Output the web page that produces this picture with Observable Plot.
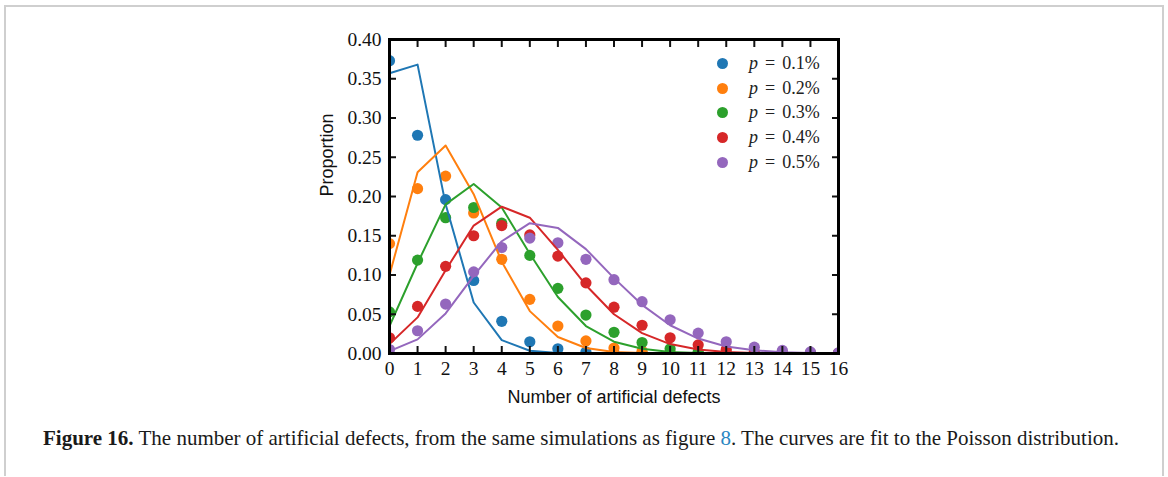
<!DOCTYPE html>
<html>
<head>
<meta charset="utf-8">
<script src="https://cdn.jsdelivr.net/npm/d3@7"></script>
<script src="https://cdn.jsdelivr.net/npm/@observablehq/plot@0.6"></script>
<style>
  html, body { margin: 0; padding: 0; background: #fff; }
  #page { position: relative; width: 1168px; height: 477px; overflow: hidden; }
  #sheet { position: absolute; left: 4px; top: 5px; width: 1156px; height: 469px;
           border-left: 2px solid #cfcfcf; border-top: 2px solid #cfcfcf; border-right: 2px solid #cfcfcf; }
  #chart { position: absolute; left: 0; top: 0; }
  #legend { position: absolute; left: 714px; top: 51px; font-family: "Liberation Serif", serif; font-size: 18px; color: #222; }
  #legend .row { height: 24.8px; display: flex; align-items: center; }
  #legend .sw { width: 11px; height: 11px; border-radius: 50%; margin-left: 3px; margin-right: 21px; }
  #legend i { margin-right: 7px; }
  #legend .eq { margin-right: 7px; }
  #caption { position: absolute; left: 43px; top: 426px; font-family: "Liberation Serif", serif; font-size: 21px; color: #1a1a1a; white-space: nowrap; }
  #caption b { font-weight: bold; }
  #caption .ref { color: #2a86c2; }
</style>
</head>
<body>
<div id="page">
  <div id="sheet"></div>
  <div id="chart"></div>
  <div id="legend"></div>
  <div id="caption"><b>Figure 16.</b> The number of artificial defects, from the same simulations as figure <span class="ref">8</span>. The curves are fit to the Poisson distribution.</div>
</div>
<script>
// Number of artificial defects per sample
const defects = [0, 1, 2, 3, 4, 5, 6, 7, 8, 9, 10, 11, 12, 13, 14, 15, 16];

// Defect probability of each simulation set
const seriesLabels = ["0.1", "0.2", "0.3", "0.4", "0.5"];
const seriesColors = ["#1f77b4", "#ff7f0e", "#2ca02c", "#d62728", "#9467bd"];

// Observed proportions (markers)
const observed01 = [0.373, 0.278, 0.196, 0.093, 0.041, 0.015, 0.006, 0.002, 0.001, 0, 0, 0, 0, 0, 0, 0, 0];
const observed02 = [0.140, 0.210, 0.226, 0.179, 0.120, 0.069, 0.035, 0.016, 0.007, 0.003, 0.001, 0, 0, 0, 0, 0, 0];
const observed03 = [0.053, 0.119, 0.173, 0.186, 0.166, 0.125, 0.083, 0.049, 0.027, 0.014, 0.006, 0.002, 0.001, 0, 0, 0, 0];
const observed04 = [0.020, 0.060, 0.111, 0.150, 0.163, 0.151, 0.124, 0.090, 0.059, 0.036, 0.020, 0.011, 0.005, 0.002, 0.001, 0, 0];
const observed05 = [0.005, 0.029, 0.063, 0.104, 0.135, 0.147, 0.141, 0.120, 0.094, 0.066, 0.043, 0.026, 0.015, 0.008, 0.004, 0.002, 0.001];

// Poisson fits (curves)
const fit01 = [0.357, 0.368, 0.190, 0.065, 0.017, 0.0035, 0.0006, 0.0001, 0, 0, 0, 0, 0, 0, 0, 0, 0];
const fit02 = [0.100, 0.231, 0.265, 0.203, 0.117, 0.054, 0.021, 0.007, 0.002, 0.0005, 0.0001, 0, 0, 0, 0, 0, 0];
const fit03 = [0.035, 0.115, 0.190, 0.216, 0.186, 0.127, 0.072, 0.035, 0.015, 0.006, 0.002, 0.0006, 0.0002, 0, 0, 0, 0];
const fit04 = [0.012, 0.046, 0.106, 0.163, 0.187, 0.173, 0.132, 0.087, 0.050, 0.026, 0.012, 0.005, 0.002, 0.0007, 0.0002, 0.0001, 0];
const fit05 = [0.003, 0.018, 0.051, 0.099, 0.143, 0.166, 0.160, 0.133, 0.096, 0.062, 0.036, 0.019, 0.009, 0.004, 0.0017, 0.0006, 0.0002];

const yTicks = [0, 0.05, 0.10, 0.15, 0.20, 0.25, 0.30, 0.35, 0.40];

const observedSets = [observed01, observed02, observed03, observed04, observed05];
const fitSets = [fit01, fit02, fit03, fit04, fit05];

// Long tables: one row per (series, defect count)
const points = observedSets.flatMap((vals, s) => vals.map((v, i) => ({s, x: defects[i], y: v})));
const curves = fitSets.flatMap((vals, s) => vals.map((v, i) => ({s, x: defects[i], y: v})));

const serif = "Liberation Serif, serif";
const sans = "Liberation Sans, Arial, sans-serif";

const dotMarks = seriesLabels.map((_, s) =>
  Plot.dot(points.filter(d => d.s === s), {x: "x", y: "y", r: 5.6, fill: seriesColors[s], stroke: "none", clip: true})
);
const lineMarks = seriesLabels.map((_, s) =>
  Plot.line(curves.filter(d => d.s === s), {x: "x", y: "y", stroke: seriesColors[s], strokeWidth: 2, clip: true})
);

const chart = Plot.plot({
  width: 1168,
  height: 420,
  marginLeft: 389,
  marginRight: 330,
  marginTop: 39,
  marginBottom: 67,
  style: {fontFamily: serif, fontSize: "19px", color: "#111", background: "transparent"},
  x: {domain: [0, 16]},
  y: {domain: [0, 0.40]},
  marks: [
    ...dotMarks,
    ...lineMarks,
    // inward ticks on all four sides
    Plot.axisX(defects, {anchor: "bottom", tickSize: -7, tickPadding: 15, strokeWidth: 2, label: null, fontFamily: serif, fontSize: 19.5}),
    Plot.axisX(defects, {anchor: "top", tickSize: -7, tickFormat: () => "", strokeWidth: 2, label: null}),
    Plot.axisY(yTicks, {anchor: "left", tickSize: -7, tickPadding: 15, tickFormat: d3.format(".2f"), strokeWidth: 2, label: null, fontFamily: serif, fontSize: 19.5}),
    Plot.axisY(yTicks, {anchor: "right", tickSize: -7, tickFormat: () => "", strokeWidth: 2, label: null}),
    Plot.frame({stroke: "#000", strokeWidth: 3}),
    Plot.text(["Number of artificial defects"], {frameAnchor: "bottom", dy: 49, fontFamily: sans, fontSize: 18, fill: "#111"}),
    Plot.text(["Proportion"], {frameAnchor: "left", dx: -62, rotate: -90, fontFamily: sans, fontSize: 18, fill: "#111"})
  ]
});
document.getElementById("chart").appendChild(chart);

// Legend: one marker and label per simulation set
const legend = d3.select("#legend");
seriesLabels.forEach((lab, s) => {
  const row = legend.append("div").attr("class", "row");
  row.append("div").attr("class", "sw").style("background", seriesColors[s]);
  const t = row.append("span");
  t.append("i").text("p");
  t.append("span").attr("class", "eq").text("=");
  t.append("span").text(lab + "%");
});
</script>
</body>
</html>
